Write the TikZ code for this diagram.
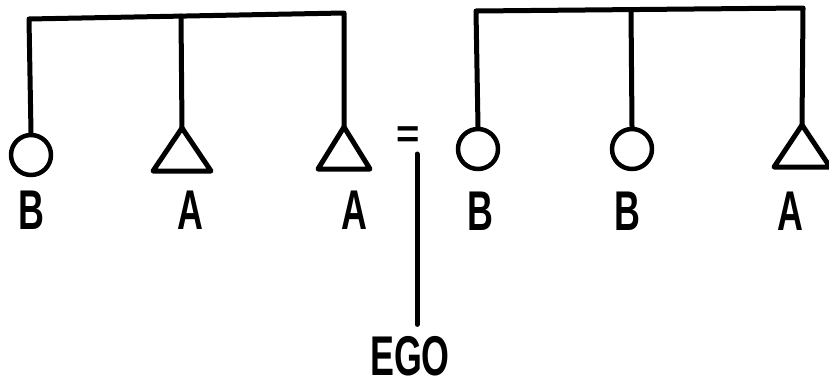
\documentclass[tikz,border=0pt]{standalone}
\usepackage{fontspec}
\setmainfont{Liberation Sans}
\newfontfamily\lblfont[FakeStretch=0.64]{Liberation Sans}
\begin{document}
\begin{tikzpicture}[x=1pt,y=-1pt,line width=5pt,line join=round,line cap=round,
  kincircle/.style={circle,draw,line width=4.5pt,minimum size=40pt,inner sep=0pt},
  kintri/.style={draw,line width=5pt,line join=round},
  lbl/.style={anchor=base,inner sep=0pt,text depth=0pt,font=\lblfont\bfseries\fontsize{56}{56}\selectfont},
  eqsign/.style={inner sep=0pt,font=\bfseries\fontsize{40}{40}\selectfont}]
\useasboundingbox (0,0) rectangle (829,383);
% left group
\node[kincircle] (b1) at (31,155) {};
\coordinate (a1) at (182,128);
\coordinate (a2) at (344,127);
\draw[kintri] (a1) -- ++(29,43) -- ++(-58,0) -- cycle;
\draw[kintri] (a2) -- ++(26,42) -- ++(-52,0) -- cycle;
\coordinate (l1) at (29,19);
\coordinate (l2) at (181,16);
\coordinate (l3) at (344,13);
\draw (b1.north) -- (l1) -- (l3) -- (a2);
\draw (l2) -- (a1);
\node[lbl] (tb1) at (31,229) {B};
\node[lbl] (ta1) at (190,229) {A};
\node[lbl] (ta2) at (354,229) {A};
% equals and ego
\node[eqsign] (eq) at (408,137) {=};
\coordinate (egotop) at (417,154);
\node[lbl] (ego) at (410,375) {EGO};
\draw (egotop) -- ([yshift=9pt]egotop |- ego.north);
% right group
\node[kincircle] (b2) at (478,149) {};
\node[kincircle] (b3) at (632,149) {};
\coordinate (a3) at (802,125);
\draw[kintri] (a3) -- ++(28,42) -- ++(-56,0) -- cycle;
\coordinate (r1) at (476,11);
\coordinate (r2) at (631,10);
\coordinate (r3) at (803,8);
\draw (b2.north) -- (r1) -- (r3) -- (a3);
\draw (r2) -- (b3.north);
\node[lbl] (tb2) at (480,230) {B};
\node[lbl] (tb3) at (627,230) {B};
\node[lbl] (ta3) at (790,230) {A};
\end{tikzpicture}
\end{document}
